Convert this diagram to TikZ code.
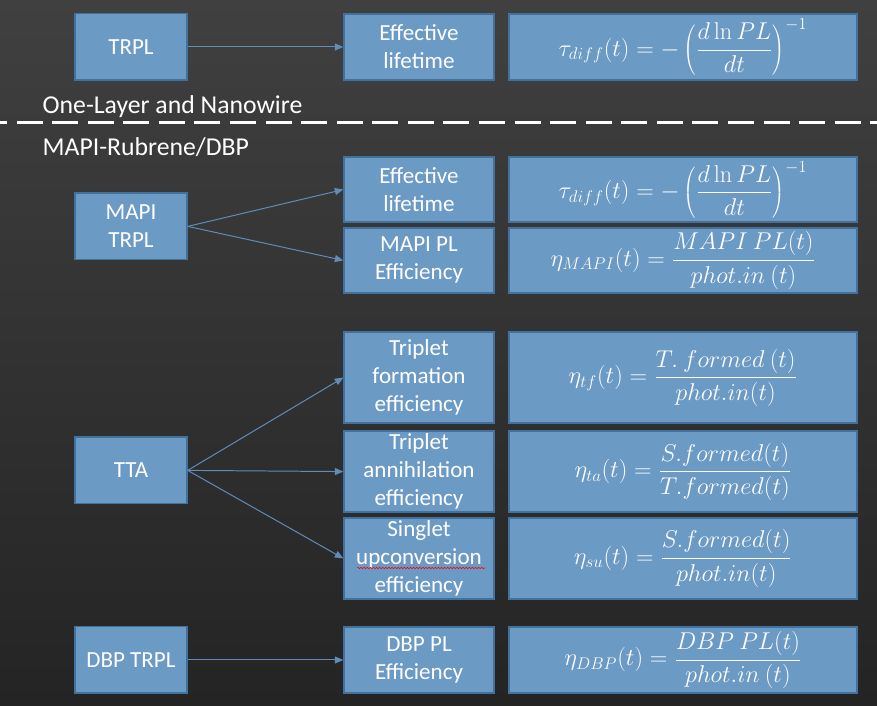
\documentclass[tikz,border=0pt]{standalone}
\usepackage[no-math]{fontspec}
\setmainfont{Carlito}
\usetikzlibrary{arrows.meta,decorations.pathmorphing}

\definecolor{bgtop}{RGB}{64,64,64}
\definecolor{bgbot}{RGB}{36,36,36}
\definecolor{boxfill}{RGB}{107,154,196}
\definecolor{boxline}{RGB}{65,113,156}
\definecolor{arrowblue}{RGB}{96,140,186}

\newcommand{\boxfont}{\fontsize{16.4}{20}\selectfont}
\newcommand{\secfont}{\fontsize{18.3}{22}\selectfont}

\begin{document}
\begin{tikzpicture}[every node/.style={font=\boxfont, text=white},
    box/.style={draw=boxline, line width=1pt, fill=boxfill, align=center, inner sep=0pt},
    arr/.style={-{Triangle[length=6pt,width=5pt]}, draw=arrowblue, line width=0.7pt}]
    \shade[top color=bgtop, bottom color=bgbot] (0,0) rectangle (21.925,17.65);
    \useasboundingbox (0,0) rectangle (21.925,17.65);

    % section labels
    \draw[white, line width=2.1pt, dash pattern=on 18.5pt off 6.8pt, dash phase=13.5pt] (0,14.58) -- (21.925,14.58);
    \node[anchor=base west, inner sep=0pt, font=\secfont] (sec1) at (1.06,14.8) {One-Layer and Nanowire};
    \node[anchor=base west, inner sep=0pt, font=\secfont] (sec2) at (1.06,13.75) {MAPI-Rubrene/DBP};

    % inputs
    \node[box, minimum width=2.8cm, minimum height=1.66cm] (trpl) at (3.275,16.475) {TRPL};
    \node[box, minimum width=2.8cm, minimum height=1.66cm] (mapitrpl) at (3.275,11.99) {MAPI\\TRPL};
    \node[box, minimum width=2.8cm, minimum height=1.66cm] (tta) at (3.275,5.89) {TTA};
    \node[box, minimum width=2.8cm, minimum height=1.66cm] (dbptrpl) at (3.275,1.15) {DBP TRPL};

    % quantities
    \node[box, minimum width=3.75cm, minimum height=1.65cm] (life1) at (10.475,16.475) {Effective\\lifetime};
    \node[box, minimum width=3.75cm, minimum height=1.625cm] (life2) at (10.475,12.91) {Effective\\lifetime};
    \node[box, minimum width=3.75cm, minimum height=1.625cm] (mapipl) at (10.475,11.14) {MAPI PL\\Efficiency};
    \node[box, minimum width=3.75cm, minimum height=2.275cm] (tform) at (10.475,8.21) {Triplet\\formation\\efficiency};
    \node[box, minimum width=3.75cm, minimum height=2.025cm] (tann) at (10.475,5.86) {Triplet\\annihilation\\efficiency};
    \node[box, minimum width=3.75cm, minimum height=2.025cm] (supc) at (10.475,3.69) {Singlet\\upconversion\\efficiency};
    \node[box, minimum width=3.75cm, minimum height=1.65cm] (dbppl) at (10.475,1.15) {DBP PL\\Efficiency};

    % formulas
    \node[box, minimum width=8.7cm, minimum height=1.65cm] (eq1) at (17.075,16.475) {$\displaystyle \tau_{diff}(t)=-\left(\frac{d\ln PL}{dt}\right)^{-1}$};
    \node[box, minimum width=8.7cm, minimum height=1.625cm] (eq2) at (17.075,12.91) {$\displaystyle \tau_{diff}(t)=-\left(\frac{d\ln PL}{dt}\right)^{-1}$};
    \node[box, minimum width=8.7cm, minimum height=1.625cm] (eq3) at (17.075,11.14) {$\displaystyle \eta_{MAPI}(t)=\frac{MAPI\ PL(t)}{phot.in\ (t)}$};
    \node[box, minimum width=8.7cm, minimum height=2.275cm] (eq4) at (17.075,8.21) {$\displaystyle \eta_{tf}(t)=\frac{T.\ formed\ (t)}{phot.in(t)}$};
    \node[box, minimum width=8.7cm, minimum height=2.025cm] (eq5) at (17.075,5.86) {$\displaystyle \eta_{ta}(t)=\frac{S.formed(t)}{T.formed(t)}$};
    \node[box, minimum width=8.7cm, minimum height=2.025cm] (eq6) at (17.075,3.69) {$\displaystyle \eta_{su}(t)=\frac{S.formed(t)}{phot.in(t)}$};
    \node[box, minimum width=8.7cm, minimum height=1.65cm] (eq7) at (17.075,1.15) {$\displaystyle \eta_{DBP}(t)=\frac{DBP\ PL(t)}{phot.in\ (t)}$};

    \draw[arr] (trpl.east) -- (life1.west);
    \draw[arr] (mapitrpl.east) -- (life2.west);
    \draw[arr] (mapitrpl.east) -- (mapipl.west);
    \draw[arr] (tta.east) -- (tform.west);
    \draw[arr] (tta.east) -- (tann.west);
    \draw[arr] (tta.east) -- (supc.west);
    \draw[arr] (dbptrpl.east) -- (dbppl.west);

    % spell-check squiggle
    \draw[red, line width=0.4pt, decorate, decoration={snake, segment length=2.2pt, amplitude=0.5pt}] (8.925,3.45) -- (12.125,3.45);
\end{tikzpicture}
\end{document}
